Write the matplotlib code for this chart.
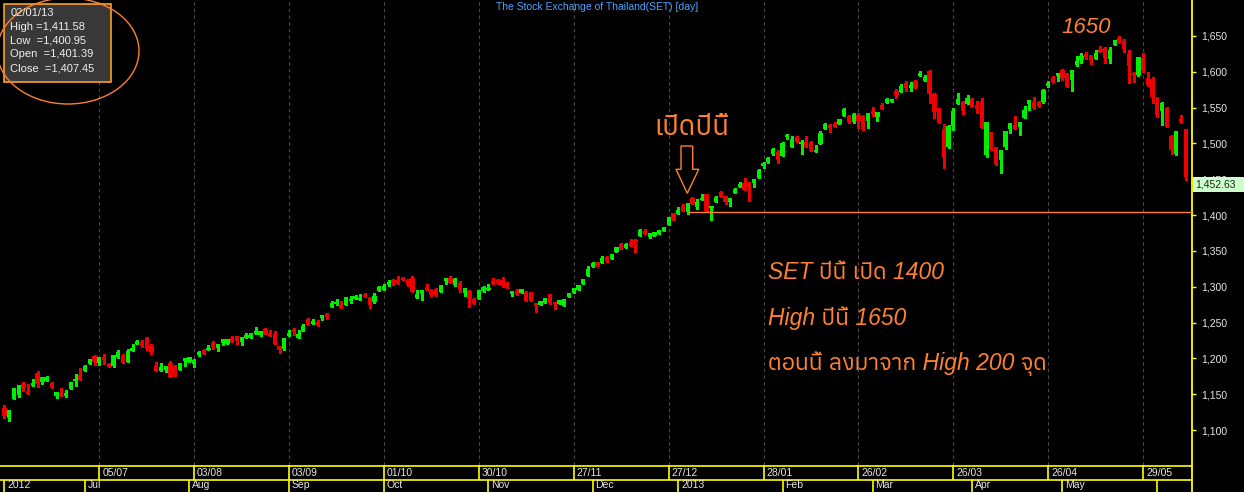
import numpy as np
import matplotlib
matplotlib.use('Agg')
import matplotlib.pyplot as plt
from matplotlib import font_manager
from matplotlib.ft2font import FT2Font
from matplotlib.patches import Rectangle, Ellipse, Polygon

# daily SET index, Jun 2012 - Jun 2013
opens = [1130.2, 1117.2, 1143.7, 1148.8, 1164.2, 1154.9, 1161.8, 1180.0, 1167.4, 1168.8,
         1166.0, 1147.9, 1152.1, 1147.9, 1157.6, 1168.8, 1176.7, 1182.8, 1192.5, 1203.7,
         1193.5, 1201.8, 1192.5, 1189.3, 1201.8, 1202.8, 1194.9, 1210.2, 1220.0, 1222.8,
         1228.3, 1217.2, 1189.3, 1182.3, 1183.7, 1193.5, 1189.3, 1183.7, 1196.3, 1194.9,
         1192.1, 1204.2, 1211.6, 1212.1, 1221.4, 1214.4, 1221.4, 1220.0, 1228.8, 1231.1,
         1222.8, 1228.3, 1228.8, 1234.4, 1232.5, 1240.9, 1235.3, 1233.9, 1217.2, 1213.0,
         1231.1, 1241.4, 1228.3, 1238.1, 1254.9, 1247.9, 1250.7, 1255.8, 1261.8, 1271.6,
         1275.8, 1274.4, 1274.4, 1280.4, 1283.2, 1281.8, 1288.8, 1283.7, 1279.0, 1294.4,
         1295.8, 1302.3, 1309.3, 1309.3, 1312.1, 1309.3, 1312.1, 1284.2, 1291.1, 1299.5,
         1293.9, 1296.7, 1292.5, 1307.9, 1312.1, 1302.3, 1305.1, 1291.1, 1293.9, 1282.8,
         1282.8, 1293.9, 1295.3, 1307.9, 1309.3, 1309.3, 1305.1, 1289.7, 1293.9, 1291.1,
         1293.0, 1292.5, 1277.2, 1274.8, 1276.7, 1290.2, 1279.0, 1275.8, 1273.4, 1285.5,
         1291.6, 1295.8, 1304.1, 1314.8, 1327.9, 1334.8, 1333.4, 1341.8, 1339.0, 1347.9,
         1359.0, 1353.4, 1362.7, 1365.1, 1370.2, 1377.6, 1369.7, 1371.1, 1373.9, 1378.1,
         1386.0, 1402.8, 1401.4, 1412.0, 1404.6, 1424.1, 1411.6, 1420.4, 1428.8, 1409.3,
         1418.6, 1432.5, 1426.9, 1417.6, 1430.2, 1439.0, 1444.1, 1443.2, 1444.1, 1452.0,
         1468.8, 1473.4, 1485.1, 1488.3, 1482.7, 1509.2, 1495.3, 1509.2, 1498.5, 1501.3,
         1502.3, 1488.3, 1499.0, 1519.9, 1525.5, 1526.9, 1526.9, 1538.5, 1538.5, 1529.7,
         1539.5, 1538.1, 1530.6, 1545.1, 1536.2, 1553.4, 1556.7, 1558.1, 1573.4, 1572.0,
         1584.1, 1576.7, 1587.4, 1594.4, 1587.4, 1600.4, 1568.3, 1548.8, 1519.9, 1494.8,
         1524.1, 1555.3, 1557.6, 1555.3, 1562.3, 1553.4, 1559.5, 1483.7, 1516.2, 1494.4,
         1476.8, 1495.4, 1519.5, 1525.6, 1522.8, 1534.9, 1554.9, 1558.1, 1558.1, 1558.1,
         1580.0, 1590.7, 1593.9, 1602.3, 1597.7, 1588.4, 1609.3, 1616.3, 1624.7, 1622.8,
         1618.1, 1631.2, 1632.6, 1618.1, 1637.7, 1647.4, 1642.8, 1624.7, 1598.6, 1595.3,
         1619.5, 1591.6, 1589.3, 1558.1, 1545.1, 1548.8, 1510.2, 1485.1, 1534.4, 1520.0]
highs = [1134.9, 1127.9, 1158.6, 1162.8, 1167.0, 1164.2, 1171.1, 1182.3, 1173.9, 1175.3,
         1167.4, 1153.0, 1158.6, 1155.3, 1167.0, 1178.1, 1186.5, 1190.7, 1199.0, 1205.1,
         1201.8, 1206.0, 1193.5, 1204.6, 1211.6, 1205.6, 1213.0, 1220.0, 1225.6, 1225.6,
         1230.2, 1220.4, 1194.4, 1193.0, 1189.3, 1196.3, 1190.7, 1193.5, 1200.4, 1201.8,
         1199.0, 1210.2, 1213.0, 1219.0, 1224.2, 1220.0, 1226.5, 1226.5, 1231.1, 1231.1,
         1229.7, 1235.3, 1235.3, 1243.7, 1238.1, 1242.3, 1239.0, 1238.1, 1217.2, 1228.3,
         1239.0, 1242.8, 1239.5, 1247.9, 1256.2, 1254.9, 1253.0, 1260.0, 1263.2, 1280.0,
         1282.8, 1279.5, 1285.1, 1286.9, 1288.8, 1289.3, 1291.6, 1286.0, 1291.6, 1300.4,
         1303.7, 1309.3, 1310.7, 1314.9, 1313.5, 1310.7, 1314.9, 1295.3, 1295.3, 1303.7,
         1296.7, 1298.1, 1302.3, 1312.1, 1314.9, 1312.1, 1307.9, 1298.1, 1295.3, 1284.2,
         1295.3, 1300.9, 1303.7, 1312.1, 1310.7, 1313.5, 1306.5, 1293.9, 1296.7, 1296.2,
         1293.9, 1292.5, 1277.2, 1279.9, 1284.6, 1290.2, 1279.0, 1281.4, 1282.8, 1291.6,
         1298.6, 1301.8, 1311.1, 1328.3, 1334.8, 1334.8, 1342.7, 1342.7, 1346.0, 1355.3,
         1361.3, 1361.3, 1366.9, 1366.9, 1380.9, 1380.4, 1375.3, 1376.7, 1379.5, 1383.7,
         1397.2, 1402.8, 1411.6, 1415.8, 1416.2, 1425.5, 1421.8, 1428.8, 1429.7, 1412.5,
         1426.9, 1433.9, 1426.9, 1423.2, 1438.1, 1445.5, 1451.1, 1446.5, 1450.7, 1464.2,
         1474.4, 1481.3, 1493.9, 1491.1, 1501.3, 1513.0, 1510.2, 1510.2, 1504.6, 1510.2,
         1503.2, 1497.6, 1517.2, 1528.3, 1526.9, 1529.7, 1533.4, 1549.3, 1539.5, 1542.7,
         1541.8, 1539.5, 1542.7, 1550.6, 1543.7, 1555.8, 1563.7, 1561.3, 1575.8, 1582.3,
         1586.9, 1586.0, 1588.8, 1601.3, 1595.3, 1602.7, 1570.2, 1549.7, 1526.5, 1525.5,
         1548.8, 1570.2, 1559.5, 1566.9, 1563.2, 1559.5, 1562.7, 1529.7, 1516.2, 1494.4,
         1490.7, 1517.2, 1528.8, 1538.1, 1530.2, 1552.1, 1560.5, 1565.1, 1559.0, 1575.3,
         1587.0, 1594.0, 1597.7, 1603.3, 1598.6, 1602.3, 1621.9, 1626.5, 1627.0, 1622.8,
         1630.2, 1635.8, 1634.9, 1634.9, 1644.2, 1649.8, 1645.1, 1630.2, 1600.0, 1620.9,
         1625.6, 1600.0, 1593.0, 1565.1, 1558.1, 1550.2, 1512.1, 1517.2, 1539.5, 1520.0]
lows = [1116.2, 1113.0, 1143.7, 1146.5, 1154.9, 1150.7, 1161.8, 1160.4, 1163.7, 1168.8,
        1158.1, 1145.1, 1147.9, 1146.5, 1157.6, 1161.8, 1170.2, 1182.8, 1192.5, 1191.1,
        1191.1, 1192.1, 1187.4, 1188.3, 1200.4, 1193.9, 1194.9, 1210.2, 1220.0, 1215.3,
        1211.1, 1206.0, 1182.3, 1182.3, 1180.4, 1174.4, 1174.9, 1183.7, 1189.7, 1194.9,
        1187.4, 1202.8, 1205.6, 1212.1, 1213.0, 1210.7, 1218.6, 1220.0, 1222.3, 1220.4,
        1218.6, 1228.3, 1228.8, 1234.4, 1231.1, 1233.9, 1231.1, 1220.0, 1207.9, 1211.6,
        1231.1, 1232.5, 1228.3, 1238.1, 1246.5, 1247.9, 1245.1, 1253.5, 1254.9, 1271.6,
        1274.4, 1270.2, 1274.4, 1277.6, 1283.2, 1281.8, 1286.0, 1270.2, 1277.6, 1294.4,
        1295.8, 1300.9, 1302.8, 1303.7, 1309.3, 1300.9, 1292.5, 1284.2, 1281.4, 1295.3,
        1286.9, 1286.9, 1292.5, 1303.7, 1305.1, 1300.9, 1292.5, 1286.9, 1271.6, 1275.8,
        1282.8, 1292.5, 1295.3, 1303.7, 1303.7, 1299.5, 1298.1, 1286.9, 1288.3, 1291.1,
        1280.4, 1279.9, 1264.1, 1274.8, 1276.7, 1275.3, 1269.2, 1275.8, 1273.4, 1285.5,
        1291.6, 1295.8, 1304.1, 1314.8, 1327.9, 1329.3, 1333.4, 1334.8, 1339.0, 1347.9,
        1352.5, 1353.4, 1357.2, 1348.8, 1370.2, 1373.9, 1367.4, 1371.1, 1373.9, 1378.1,
        1386.0, 1393.5, 1401.0, 1406.0, 1400.9, 1415.8, 1408.8, 1420.4, 1404.6, 1393.0,
        1418.6, 1424.6, 1415.3, 1412.5, 1430.2, 1439.0, 1435.3, 1419.9, 1438.5, 1452.0,
        1466.0, 1472.0, 1483.7, 1473.0, 1482.7, 1506.0, 1495.3, 1501.3, 1484.6, 1495.3,
        1489.7, 1487.4, 1499.0, 1519.9, 1515.3, 1522.7, 1526.9, 1538.5, 1528.3, 1527.9,
        1521.8, 1518.5, 1520.9, 1538.5, 1531.1, 1547.4, 1556.7, 1558.1, 1563.7, 1572.0,
        1573.0, 1573.4, 1577.1, 1594.4, 1587.4, 1555.8, 1535.8, 1527.9, 1466.0, 1493.0,
        1518.1, 1555.3, 1540.9, 1555.3, 1550.2, 1541.8, 1520.9, 1481.3, 1490.7, 1470.0,
        1459.1, 1492.0, 1515.0, 1519.5, 1511.6, 1534.9, 1546.5, 1547.4, 1551.1, 1556.7,
        1578.1, 1583.7, 1587.0, 1588.4, 1578.1, 1573.5, 1608.4, 1612.6, 1617.2, 1610.2,
        1618.1, 1627.9, 1612.6, 1612.6, 1637.7, 1639.5, 1627.9, 1583.7, 1586.0, 1593.9,
        1600.0, 1580.0, 1556.8, 1537.2, 1525.6, 1523.3, 1485.1, 1483.7, 1527.9, 1448.8]
closes = [1119.5, 1127.9, 1158.6, 1162.8, 1158.6, 1150.7, 1166.0, 1164.6, 1173.9, 1173.9,
          1160.0, 1153.0, 1147.9, 1152.1, 1167.0, 1171.1, 1170.2, 1189.3, 1199.0, 1195.3,
          1201.8, 1197.6, 1188.3, 1204.6, 1208.3, 1193.9, 1210.7, 1214.4, 1223.7, 1217.2,
          1213.0, 1208.3, 1182.3, 1187.9, 1189.3, 1174.4, 1178.1, 1193.5, 1200.4, 1201.8,
          1197.6, 1209.3, 1206.5, 1214.9, 1215.8, 1220.0, 1226.5, 1226.5, 1223.2, 1224.2,
          1229.7, 1233.0, 1235.3, 1238.1, 1238.1, 1233.9, 1231.1, 1220.0, 1211.6, 1228.3,
          1235.3, 1237.2, 1233.9, 1245.6, 1246.5, 1252.1, 1246.5, 1260.0, 1257.6, 1276.7,
          1278.1, 1270.2, 1285.1, 1283.2, 1287.4, 1284.6, 1286.0, 1274.4, 1287.4, 1299.5,
          1300.9, 1306.5, 1305.1, 1303.7, 1309.3, 1302.3, 1292.5, 1289.7, 1295.3, 1295.3,
          1288.3, 1288.3, 1302.3, 1312.1, 1305.1, 1310.7, 1295.3, 1298.1, 1282.8, 1277.2,
          1295.3, 1299.5, 1298.1, 1303.7, 1305.1, 1300.9, 1300.9, 1293.9, 1289.7, 1296.2,
          1280.4, 1279.9, 1272.5, 1279.9, 1284.6, 1276.7, 1275.8, 1281.4, 1282.8, 1291.6,
          1298.6, 1301.8, 1311.1, 1325.1, 1333.4, 1329.3, 1339.9, 1336.2, 1345.1, 1355.3,
          1352.5, 1359.9, 1357.2, 1362.7, 1379.5, 1373.9, 1375.3, 1376.7, 1379.5, 1383.7,
          1397.2, 1393.5, 1407.5, 1406.0, 1416.2, 1415.8, 1418.6, 1424.1, 1406.0, 1412.5,
          1425.5, 1424.6, 1418.6, 1423.2, 1435.8, 1443.7, 1435.3, 1439.0, 1450.7, 1462.3,
          1473.0, 1479.9, 1492.0, 1476.7, 1500.4, 1511.6, 1506.5, 1501.3, 1501.3, 1495.3,
          1489.7, 1490.6, 1514.8, 1526.9, 1520.9, 1522.7, 1533.4, 1547.9, 1530.2, 1541.3,
          1531.1, 1519.9, 1542.7, 1540.9, 1543.7, 1547.4, 1561.3, 1561.3, 1567.4, 1579.9,
          1577.6, 1581.4, 1577.1, 1598.1, 1593.0, 1568.3, 1544.1, 1527.9, 1479.9, 1524.1,
          1545.1, 1562.3, 1545.1, 1562.7, 1551.1, 1548.3, 1521.8, 1529.7, 1492.0, 1471.6,
          1490.7, 1517.2, 1528.8, 1519.5, 1530.2, 1546.5, 1560.5, 1548.8, 1552.1, 1574.4,
          1583.7, 1585.1, 1597.7, 1590.7, 1579.1, 1602.3, 1614.9, 1621.9, 1620.9, 1616.3,
          1625.6, 1627.9, 1618.6, 1630.2, 1644.2, 1640.9, 1631.2, 1607.9, 1594.9, 1620.0,
          1602.3, 1581.4, 1564.2, 1539.5, 1555.8, 1523.3, 1490.7, 1517.2, 1529.8, 1452.63]

date_ticks = [20, 40, 60, 80, 100, 120, 140, 160, 180, 200, 220, 240]
date_labels = ['05/07', '03/08', '03/09', '01/10', '30/10', '27/11',
               '27/12', '28/01', '26/02', '26/03', '26/04', '29/05']
month_ticks = [0, 17, 39, 60, 80, 102, 124, 142, 164, 183, 204, 223, 243]
month_labels = ['2012', 'Jul', 'Aug', 'Sep', 'Oct', 'Nov', 'Dec',
                '2013', 'Feb', 'Mar', 'Apr', 'May', '']
y_ticks = [1100, 1150, 1200, 1250, 1300, 1350, 1400, 1450, 1500, 1550, 1600, 1650]

info_date = '02/01/13'
info_names = ['High ', 'Low  ', 'Open  ', 'Close  ']
info_values = [1411.58, 1400.95, 1401.39, 1407.45]
year_open_bar = 144
year_open_level = 1404
last_close = closes[-1]

# find a font with Thai glyphs, if there is one
def has_thai(path):
    try:
        return FT2Font(path).get_char_index(0x0E1B) != 0
    except Exception:
        return False

thai = sorted({f.name for f in font_manager.fontManager.ttflist if has_thai(f.fname)})
plt.rcParams['font.family'] = ['Liberation Sans'] + thai[:1] + ['DejaVu Sans']

YEL = '#ffff00'
ORG = '#ff8030'
GRN = '#00ee00'
RED = '#ee0000'

fig = plt.figure(figsize=(12.44, 4.92), dpi=100, facecolor='black')
ax = fig.add_axes([0, 27 / 492, 1192 / 1244, 465 / 492])
ax.set_facecolor('black')
xmax = 250.3
ax.set_xlim(-0.93, xmax)
ax.set_ylim(1051.2, 1700)

o = np.array(opens)
h = np.array(highs)
l = np.array(lows)
c = np.array(closes)
x = np.arange(len(c))
cols = np.where(c >= o, GRN, RED)

for t in date_ticks:
    ax.axvline(t, color='#4a4a4a', lw=0.8, ls=(0, (3, 3)), zorder=1)

ax.vlines(x, l, h, colors=cols, lw=1.0, zorder=3, antialiased=False)
ax.bar(x, np.maximum(np.abs(c - o), 0.8), bottom=np.minimum(o, c), width=0.9,
       color=cols, linewidth=0, zorder=4, antialiased=False)

ax.hlines(year_open_level, year_open_bar, xmax, color=ORG, lw=1.0, zorder=5)

ax.yaxis.tick_right()
ax.set_yticks(y_ticks)
ax.set_yticklabels([f'{v:,}' for v in y_ticks])
ax.tick_params(axis='y', colors=YEL, labelcolor='#e6e6e6', length=3, width=1,
               labelsize=7.5, pad=3.5)
ax.set_xticks([])
for s in ['left', 'top', 'bottom']:
    ax.spines[s].set_visible(False)
ax.spines['right'].set_color(YEL)
ax.spines['right'].set_linewidth(1.3)

# bottom date strip
axb = fig.add_axes([0, 0, 1192 / 1244, 27 / 492])
axb.set_xlim(-0.93, xmax)
axb.set_ylim(0, 27)
axb.axis('off')
axb.axhline(26.5, color=YEL, lw=1.2)
axb.axhline(12, color=YEL, lw=1.2)
axb.vlines(date_ticks, 12, 27, color=YEL, lw=1.2)
axb.vlines(month_ticks, 0, 12, color=YEL, lw=1.2)
axb.vlines([xmax - 0.1], 0, 27, color=YEL, lw=1.3, clip_on=False)
for t, s in zip(date_ticks, date_labels):
    axb.text(t + 0.6, 19, s, color='#e6e6e6', fontsize=7.5, va='center', ha='left')
for t, s in zip(month_ticks, month_labels):
    axb.text(t + 0.6, 11.5, s, color='#e6e6e6', fontsize=7.5, va='top', ha='left')

# overlay in pixel coordinates for the annotations
ov = fig.add_axes([0, 0, 1, 1], zorder=10)
ov.set_xlim(0, 1244)
ov.set_ylim(492, 0)
ov.axis('off')

ov.text(597, 7.5, 'The Stock Exchange of Thailand(SET) [day]', color='#4da3ff',
        fontsize=7.5, ha='center', va='center')

ov.add_patch(Rectangle((3.5, 3.5), 107, 78, fc='#383838', ec='#ffa020', lw=1.2))
ov.add_patch(Ellipse((68, 51), 142, 106, fill=False, ec=ORG, lw=1.0))
ov.text(10.5, 13.5, info_date, color='#eeeeee', fontsize=8, va='center')
for k, (n, v) in enumerate(zip(info_names, info_values)):
    ov.text(10.5, 26.5 + 13.9 * k, f'{n}={v:,.2f}', color='#eeeeee', fontsize=8, va='center')

ov.add_patch(Rectangle((1193, 177), 51, 15, fc='#ccffcc', ec='none'))
ov.text(1195, 184.5, f'{last_close:,.2f}', color='#202020', fontsize=7.5, va='center')

ov.text(1061, 33, '1650', color=ORG, fontsize=16, style='italic', va='baseline')
ov.text(654, 135, 'เปิดปีนี้', color=ORG, fontsize=20, va='baseline')
ov.add_patch(Polygon([(681, 146), (692.7, 146), (692.7, 169.3), (698.7, 169.3),
                      (687.3, 193.3), (676, 169.3), (681, 169.3)],
                     closed=True, fill=False, ec=ORG, lw=1.0))
notes = ['SET ปีนี้ เปิด 1400', 'High ปีนี้ 1650', 'ตอนนี้ ลงมาจาก High 200 จุด']
for k, s in enumerate(notes):
    ov.text(768, 279 + 45.5 * k, s, color=ORG, fontsize=16.5, style='italic', va='baseline')

fig.savefig('out.png', dpi=100, facecolor='black')
